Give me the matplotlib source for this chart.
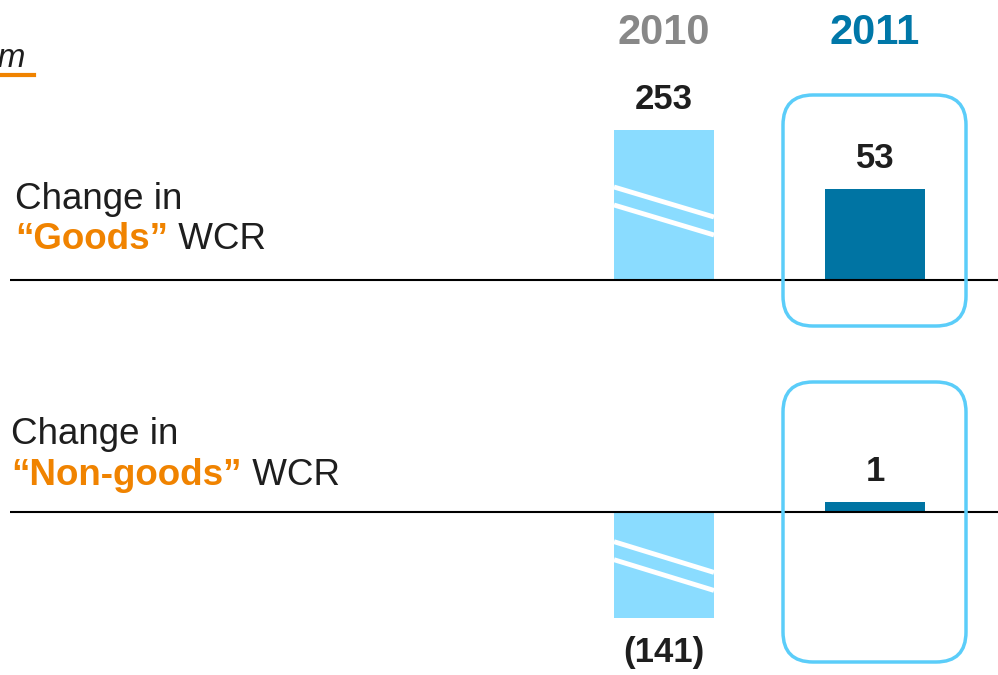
import numpy as np
import matplotlib.pyplot as plt
from matplotlib.patches import FancyBboxPatch
from matplotlib.lines import Line2D

plt.rcParams['font.family'] = ['Liberation Sans', 'DejaVu Sans']

# data (EUR m)
years = ['2010', '2011']
goods = [253, 53]
non_goods = [-141, 1]
goods_labels = ['253', '53']
non_goods_labels = ['(141)', '1']

W, H = 998, 675
light = '#8adcff'
dark = '#0074a3'
box_col = '#5bcdf9'
orange = '#f08300'
ink = '#1e1e1e'

k = 91 / 53          # px per EUR m
col_px = 211         # px between the two columns
bar_w = 100 / col_px

fig = plt.figure(figsize=(W / 100, H / 100), dpi=100)


def panel(bottom_px, top_px, base_px, vals, labels, cap_px, breaks, box_px):
    ax = fig.add_axes([10 / W, 1 - bottom_px / H, (W - 10) / W, (bottom_px - top_px) / H])
    ax.set_xlim(-(664 - 10) / col_px, 1 + (W - 875) / col_px)
    ax.set_ylim(-(bottom_px - base_px) / k, (base_px - top_px) / k)
    ax.axis('off')

    vals = np.array(vals, dtype=float)
    cap = cap_px / k
    shown = np.clip(vals, -cap, cap)
    # tiny values get a visible sliver
    min_h = 10 / k
    shown = np.where(np.abs(shown) < min_h, np.sign(shown) * min_h, shown)

    ax.bar([0, 1], shown, width=bar_w, color=[light, dark], zorder=2)
    ax.axhline(0, color='black', lw=1.5, zorder=3)

    # break marks on the truncated bars
    for i, v in enumerate(vals):
        if abs(v) > cap:
            for f0, f1 in breaks:
                ax.plot([i - bar_w / 2, i + bar_w / 2], [shown[i] * f0, shown[i] * f1],
                        color='white', lw=3.5, solid_capstyle='butt', zorder=4)

    for i, (v, lab) in enumerate(zip(shown, labels)):
        off = 22 if v > 0 else -25
        ax.annotate(lab, (i, v), xytext=(0, off), textcoords='offset points',
                    ha='center', va='center', fontsize=25, fontweight='bold', color=ink)

    y_top = (base_px - box_px[0]) / k
    y_bot = (base_px - box_px[1]) / k
    x0 = (783 - 875) / col_px + 1
    x1 = (966 - 875) / col_px + 1
    ax.add_patch(FancyBboxPatch((x0, y_bot), x1 - x0, y_top - y_bot,
                                boxstyle=f'round,pad=0,rounding_size={30 / col_px}',
                                mutation_aspect=col_px / k, fc='none', ec=box_col,
                                lw=2.5, clip_on=False, zorder=5))
    return ax


ax1 = panel(330, 0, 280, goods, goods_labels, 150,
            [(0.62, 0.42), (0.5, 0.3)], (95, 326))
ax2 = panel(675, 335, 512, non_goods, non_goods_labels, 106,
            [(0.28, 0.57), (0.45, 0.74)], (382, 662))

for i, (yr, c) in enumerate(zip(years, ['#888888', '#0077a8'])):
    ax1.text(i, 1 - 33 / 330, yr, transform=ax1.get_xaxis_transform(),
             ha='center', va='center', fontsize=30, fontweight='bold', color=c)


def row_label(x, y1, y2, word):
    fig.text(x / W, 1 - y1 / H, 'Change in', fontsize=26.5, color=ink, va='baseline')
    t = fig.text(x / W, 1 - y2 / H, '\u201c' + word + '\u201d', fontsize=26.5,
                 fontweight='bold', color=orange, va='baseline')
    ax2.annotate(' WCR', xy=(1, 0), xycoords=t, va='bottom', ha='left',
                 fontsize=26.5, color=ink, annotation_clip=False)


row_label(15, 209, 249, 'Goods')
row_label(11, 444, 485, 'Non-goods')

# unit label, cut at the left edge as in the slide
fig.text(26 / W, 1 - 67 / H, '\u20acm', ha='right', va='baseline', fontsize=24,
         style='italic', color=ink)
fig.add_artist(Line2D([0, 34 / W], [1 - 75 / H] * 2, color=orange, lw=3))

fig.savefig('out.png', dpi=100)
